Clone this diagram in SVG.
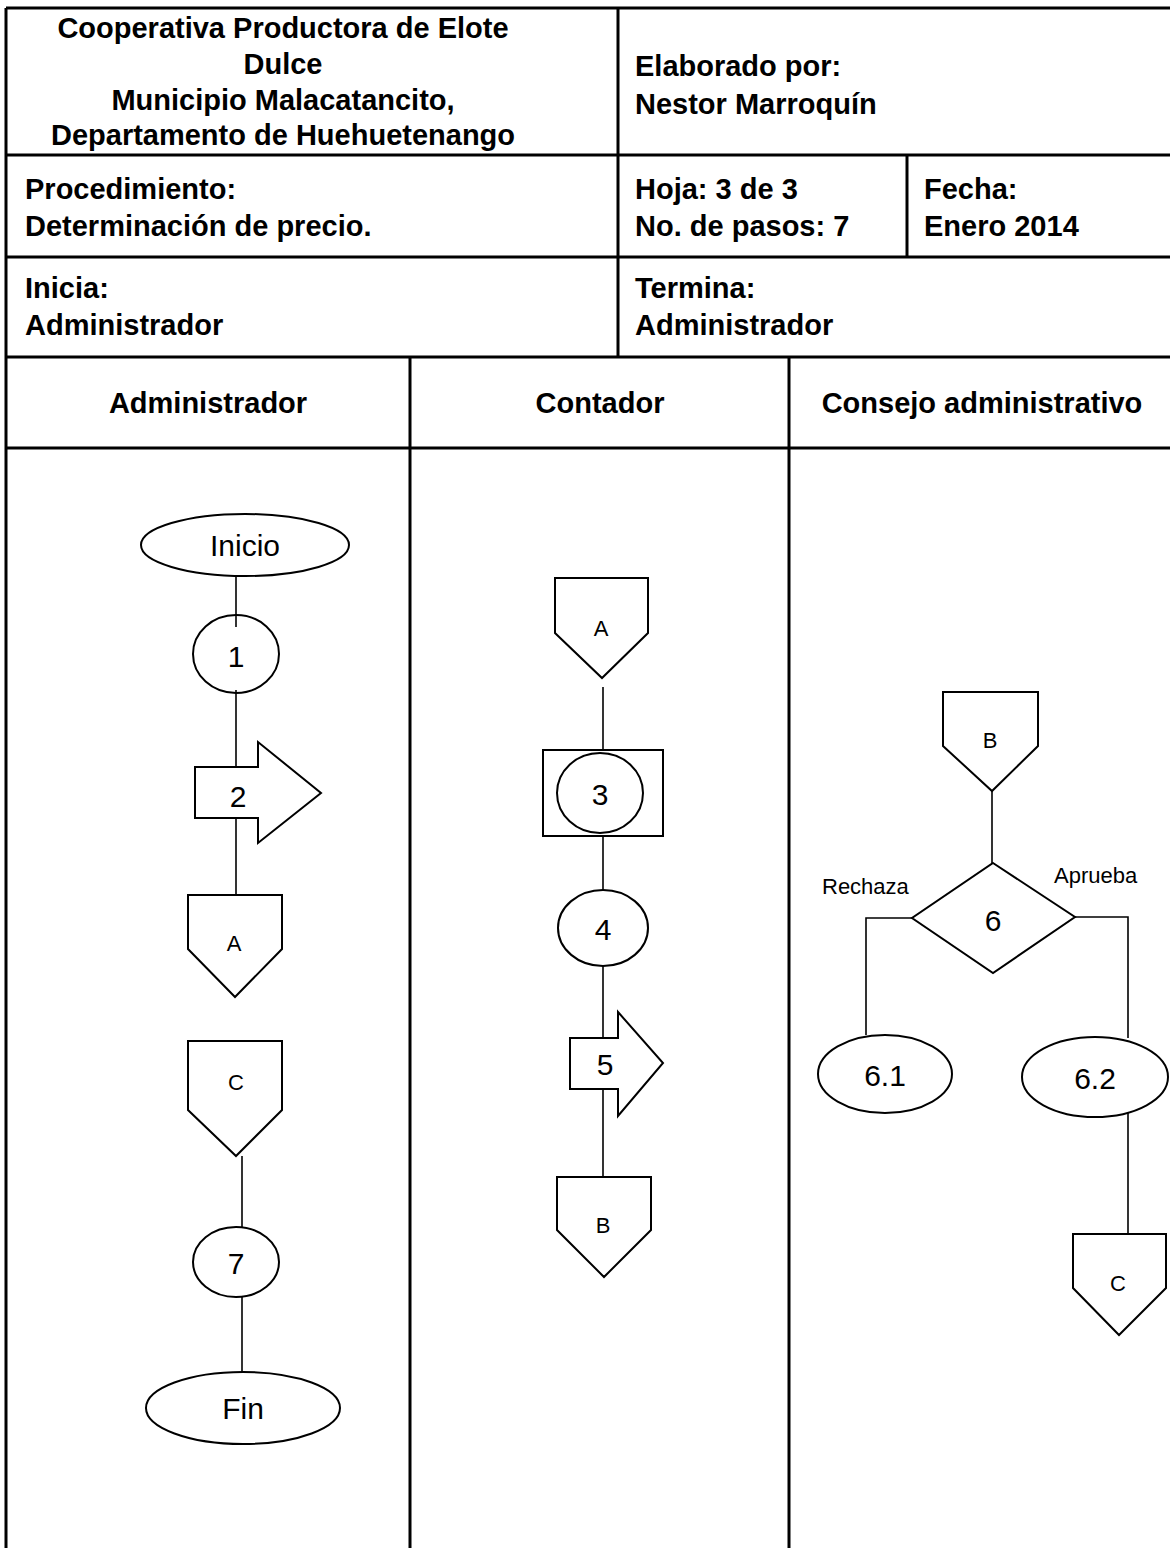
<svg xmlns="http://www.w3.org/2000/svg" width="1170" height="1548" viewBox="0 0 1170 1548">
<style>
.grid{stroke:#000;stroke-width:3;fill:none}
.hb{font-family:"Liberation Sans",Arial,sans-serif;font-weight:bold;font-size:29px;fill:#000}
.shape{fill:#fff;stroke:#000;stroke-width:2}
.conn{stroke:#000;stroke-width:1.6;fill:none}
.lbl{font-family:"Liberation Sans",Arial,sans-serif;font-size:30px;fill:#000;text-anchor:middle}
.sm{font-family:"Liberation Sans",Arial,sans-serif;font-size:22px;fill:#000;text-anchor:middle}
.br{font-family:"Liberation Sans",Arial,sans-serif;font-size:22px;fill:#000}
</style>
<rect width="1170" height="1548" fill="#fff"/>
<g id="table">
<line class="grid" x1="6" y1="8" x2="1170" y2="8"/>
<line class="grid" x1="6" y1="155" x2="1170" y2="155"/>
<line class="grid" x1="6" y1="257" x2="1170" y2="257"/>
<line class="grid" x1="6" y1="357" x2="1170" y2="357"/>
<line class="grid" x1="6" y1="448" x2="1170" y2="448"/>
<line class="grid" x1="6" y1="8" x2="6" y2="1548"/>
<line class="grid" x1="618" y1="8" x2="618" y2="357"/>
<line class="grid" x1="907" y1="155" x2="907" y2="257"/>
<line class="grid" x1="410" y1="357" x2="410" y2="1548"/>
<line class="grid" x1="789" y1="357" x2="789" y2="1548"/>
</g>
<g id="header-text" class="hb">
<text x="283" y="38" text-anchor="middle">Cooperativa Productora de Elote</text>
<text x="283" y="74" text-anchor="middle">Dulce</text>
<text x="283" y="110" text-anchor="middle">Municipio Malacatancito,</text>
<text x="283" y="145" text-anchor="middle">Departamento de Huehuetenango</text>
<text x="635" y="76">Elaborado por:</text>
<text x="635" y="114">Nestor Marroquín</text>
<text x="25" y="199">Procedimiento:</text>
<text x="25" y="236">Determinación de precio.</text>
<text x="635" y="199">Hoja: 3 de 3</text>
<text x="635" y="236">No. de pasos: 7</text>
<text x="924" y="199">Fecha:</text>
<text x="924" y="236">Enero 2014</text>
<text x="25" y="298">Inicia:</text>
<text x="25" y="335">Administrador</text>
<text x="635" y="298">Termina:</text>
<text x="635" y="335">Administrador</text>
<text x="208" y="413" text-anchor="middle">Administrador</text>
<text x="600" y="413" text-anchor="middle">Contador</text>
<text x="982" y="413" text-anchor="middle">Consejo administrativo</text>
</g>
<g id="connectors">
<line class="conn" x1="236" y1="576" x2="236" y2="627"/>
<line class="conn" x1="236" y1="690" x2="236" y2="767"/>
<line class="conn" x1="236" y1="818" x2="236" y2="895"/>
<line class="conn" x1="242" y1="1156" x2="242" y2="1229"/>
<line class="conn" x1="242" y1="1297" x2="242" y2="1372"/>
<line class="conn" x1="603" y1="687" x2="603" y2="750"/>
<line class="conn" x1="603" y1="836" x2="603" y2="890"/>
<line class="conn" x1="603" y1="966" x2="603" y2="1038"/>
<line class="conn" x1="603" y1="1089" x2="603" y2="1177"/>
<line class="conn" x1="992" y1="791" x2="992" y2="863"/>
<polyline class="conn" points="912,918 866,918 866,1035"/>
<polyline class="conn" points="1075,917 1128,917 1128,1038"/>
<line class="conn" x1="1128" y1="1113" x2="1128" y2="1234"/>
</g>
<g id="n-inicio"><ellipse class="shape" cx="245" cy="545" rx="104" ry="31"/><text class="lbl" x="245" y="556">Inicio</text></g>
<g id="n-1"><ellipse class="shape" cx="236" cy="654" rx="43" ry="39" style="fill:none"/><text class="lbl" x="236" y="667">1</text></g>
<g id="n-2"><polygon class="shape" points="195,767 258,767 258,742 321,793 258,843 258,818 195,818"/><text class="lbl" x="238" y="807">2</text></g>
<g id="n-a1"><polygon class="shape" points="188,895 282,895 282,949 235,997 188,949"/><text class="sm" x="234" y="951">A</text></g>
<g id="n-c1"><polygon class="shape" points="188,1041 282,1041 282,1110 236,1156 188,1110"/><text class="sm" x="236" y="1090">C</text></g>
<g id="n-7"><ellipse class="shape" cx="236" cy="1262" rx="43" ry="35"/><text class="lbl" x="236" y="1274">7</text></g>
<g id="n-fin"><ellipse class="shape" cx="243" cy="1408" rx="97" ry="36"/><text class="lbl" x="243" y="1419">Fin</text></g>
<g id="n-a2"><polygon class="shape" points="555,578 648,578 648,633 602,678 555,633"/><text class="sm" x="601" y="636">A</text></g>
<g id="n-3"><rect class="shape" x="543" y="750" width="120" height="86"/><ellipse class="shape" cx="600" cy="793" rx="43" ry="40"/><text class="lbl" x="600" y="805">3</text></g>
<g id="n-4"><ellipse class="shape" cx="603" cy="928" rx="45" ry="38"/><text class="lbl" x="603" y="940">4</text></g>
<g id="n-5"><polygon class="shape" points="570,1038 618,1038 618,1012 663,1063 618,1116 618,1089 570,1089"/><text class="lbl" x="605" y="1075">5</text></g>
<g id="n-b1"><polygon class="shape" points="557,1177 651,1177 651,1230 604,1277 557,1230"/><text class="sm" x="603" y="1233">B</text></g>
<g id="n-b2"><polygon class="shape" points="943,692 1038,692 1038,746 992,791 943,746"/><text class="sm" x="990" y="748">B</text></g>
<g id="n-6"><polygon class="shape" points="993,863 1075,917 993,973 912,918"/><text class="lbl" x="993" y="931">6</text></g>
<text class="br" x="822" y="894">Rechaza</text>
<text class="br" x="1054" y="883">Aprueba</text>
<g id="n-61"><ellipse class="shape" cx="885" cy="1074" rx="67" ry="39"/><text class="lbl" x="885" y="1086">6.1</text></g>
<g id="n-62"><ellipse class="shape" cx="1095" cy="1077" rx="73" ry="40"/><text class="lbl" x="1095" y="1089">6.2</text></g>
<g id="n-c2"><polygon class="shape" points="1073,1234 1166,1234 1166,1288 1119,1335 1073,1288"/><text class="sm" x="1118" y="1291">C</text></g>
</svg>
